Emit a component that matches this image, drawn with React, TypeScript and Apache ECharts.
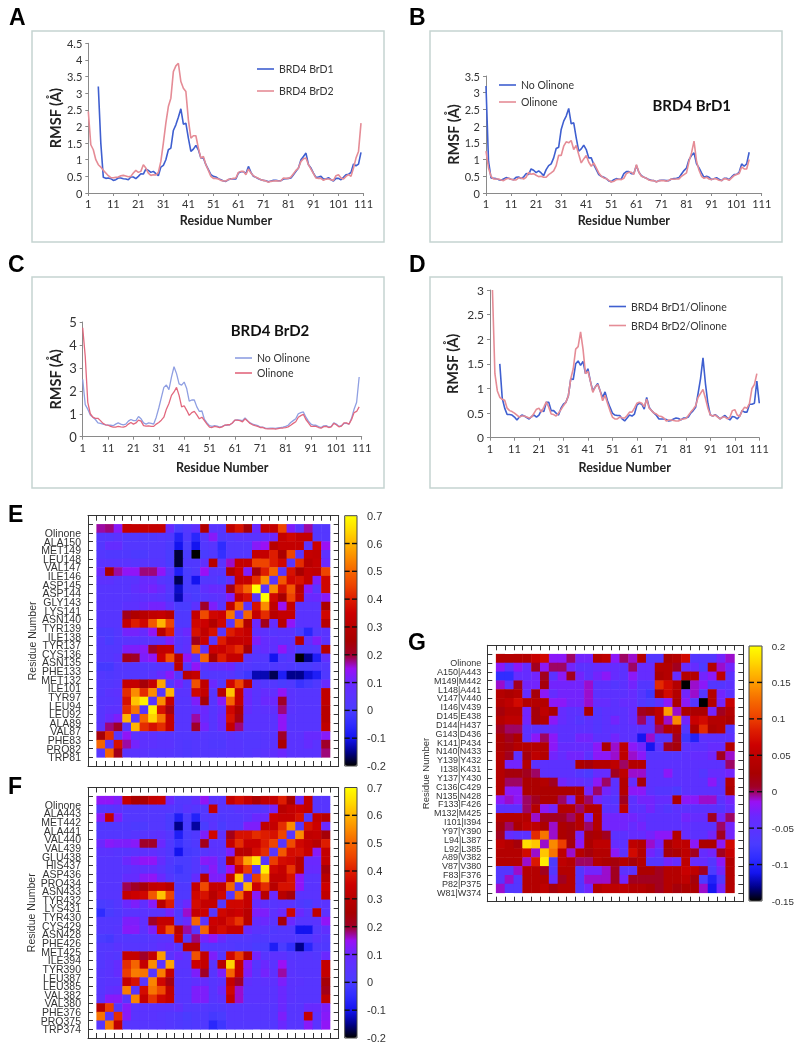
import React, { useEffect, useRef } from "react";
import * as echarts from "echarts";

const residues = Array.from({ length: 111 }, (_, i) => String(i + 1));
const n = null;

const aBrD1 = [n,n,n,n,3.2,1.5,.47,.44,.45,.43,.38,.4,.45,.45,.43,.42,.4,.48,.48,.43,.5,.58,.57,.72,.68,.62,.65,.58,.52,.78,.83,1.0,1.3,1.35,1.88,2.05,2.28,2.53,2.07,2.1,1.65,1.25,1.32,1.43,1.3,1.05,1.05,.85,.7,.55,.5,.48,.43,.4,.36,.35,.4,.43,.42,.42,.6,.64,.64,.58,.8,.62,.5,.47,.43,.4,.38,.37,.34,.36,.38,.38,.37,.37,.42,.43,.44,.45,.55,.65,.75,1.0,1.1,1.2,.85,.75,.6,.47,.48,.5,.42,.42,.46,.4,.36,.44,.44,.4,.47,.55,.56,.62,.87,.82,.87,1.22];
const aBrD2 = [2.45,1.45,1.3,1.0,.85,.78,.68,.6,.52,.46,.46,.47,.48,.52,.53,.51,.49,.5,.6,.68,.62,.65,.85,.75,.6,.53,.55,.54,.62,.95,1.5,2.1,2.6,2.85,3.65,3.82,3.9,3.35,3.15,3.05,2.2,1.65,1.72,1.72,1.35,1.05,1.1,.85,.68,.5,.44,.44,.42,.38,.36,.36,.41,.42,.44,.45,.62,.65,.65,.55,.72,.6,.52,.47,.44,.4,.38,.36,.32,.35,.36,.37,.36,.37,.45,.44,.44,.48,.58,.68,.75,.95,1.03,1.05,.85,.72,.58,.45,.44,.44,.38,.42,.42,.4,.38,.52,.55,.45,.42,.5,.55,.5,.75,1.05,1.25,2.1];
const bNoOlinone = [3.2,.95,.45,.44,.43,.4,.38,.42,.46,.44,.41,.4,.47,.48,.43,.48,.58,.55,.72,.68,.61,.66,.6,.52,.7,.82,.87,1.05,1.33,1.37,1.9,2.15,2.3,2.53,2.07,2.1,1.65,1.25,1.32,1.43,1.3,1.05,1.05,.85,.7,.55,.5,.47,.43,.36,.34,.4,.43,.41,.42,.58,.64,.64,.58,.58,.82,.62,.52,.47,.44,.4,.38,.37,.34,.37,.38,.38,.37,.37,.42,.43,.44,.46,.57,.67,.75,1.0,1.12,1.2,.87,.75,.6,.47,.5,.47,.4,.43,.46,.41,.37,.44,.44,.4,.48,.55,.56,.62,.87,.8,.87,1.22];
const bOlinone = [1.25,.75,.5,.42,.42,.42,.39,.37,.42,.44,.41,.39,.39,.45,.45,.42,.47,.62,.56,.58,.53,.49,.5,.47,.47,.55,.6,.66,.82,1.13,1.12,1.4,1.53,1.5,1.57,1.3,1.42,1.15,.9,1.02,1.12,.92,.8,.9,.75,.6,.5,.45,.43,.38,.33,.35,.4,.41,.4,.44,.58,.62,.62,.56,.85,.62,.5,.47,.44,.39,.37,.37,.33,.37,.37,.37,.35,.38,.42,.41,.42,.42,.5,.55,.6,.95,1.2,1.55,.95,.68,.5,.44,.47,.42,.4,.43,.42,.38,.37,.43,.42,.38,.45,.52,.55,.58,.78,.72,.72,1.0];
const cNoOlinone = [2.5,1.4,1.2,.95,.85,.75,.6,.58,.55,.52,.5,.5,.48,.55,.6,.55,.52,.55,.68,.75,.7,.7,.88,.78,.6,.55,.6,.58,.55,.85,1.25,1.7,2.15,2.25,2.05,2.6,3.05,2.75,2.3,2.25,2.38,2.1,1.55,1.6,1.6,1.3,1.1,1.12,.75,.6,.48,.45,.48,.46,.42,.45,.5,.5,.52,.6,.72,.73,.72,.7,.82,.7,.6,.55,.52,.48,.42,.42,.37,.36,.37,.37,.36,.38,.4,.42,.45,.5,.62,.7,.78,1.0,1.05,1.08,.85,.68,.55,.5,.5,.44,.4,.47,.48,.42,.45,.6,.55,.45,.48,.58,.58,.55,.8,1.2,1.5,2.6];
const cOlinone = [4.75,3.5,1.5,1.0,.85,.8,.8,.7,.58,.52,.5,.45,.42,.42,.45,.43,.42,.45,.55,.62,.55,.6,.72,.68,.48,.46,.47,.45,.45,.55,.62,.72,.85,1.2,1.45,1.8,1.95,2.15,1.8,1.3,1.35,1.15,.93,1.05,1.1,.95,.78,.85,.7,.55,.42,.4,.45,.43,.4,.43,.5,.52,.52,.6,.72,.72,.7,.65,.78,.68,.58,.52,.48,.45,.4,.4,.35,.34,.34,.35,.33,.35,.37,.38,.4,.43,.5,.58,.65,.85,.92,.98,.75,.6,.45,.45,.45,.4,.37,.44,.45,.4,.43,.58,.52,.43,.46,.6,.6,.55,.75,1.05,1.1,1.3];
const dBrD1 = [n,n,n,n,1.5,.8,.6,.47,.47,.46,.42,.36,.42,.46,.44,.41,.38,.43,.46,.42,.46,.56,.53,.72,.72,.55,.55,.5,.46,.6,.68,.72,.85,1.2,1.18,1.5,1.56,1.47,1.55,1.3,1.4,1.15,.95,1.03,1.1,.95,.82,.93,.75,.62,.5,.46,.45,.45,.38,.34,.4,.46,.44,.48,.66,.7,.68,.58,.82,.62,.55,.5,.45,.38,.38,.38,.37,.34,.35,.38,.4,.39,.36,.4,.4,.42,.5,.55,.62,.9,1.2,1.62,1.1,.7,.46,.44,.47,.43,.38,.42,.45,.4,.36,.43,.42,.38,.44,.55,.52,.52,.68,.68,.7,1.15,.7];
const dBrD2 = [n,3.0,1.3,.95,.82,.78,.76,.6,.55,.53,.5,.46,.42,.44,.44,.42,.4,.42,.5,.58,.6,.52,.62,.73,.62,.48,.47,.44,.5,.57,.65,.72,.85,1.2,1.4,1.8,1.85,2.15,1.8,1.3,1.35,1.15,.92,1.03,1.08,.95,.75,.86,.7,.55,.42,.38,.38,.42,.4,.4,.45,.52,.52,.6,.7,.72,.7,.63,.78,.6,.55,.5,.48,.44,.43,.4,.34,.36,.36,.35,.34,.34,.37,.38,.39,.45,.52,.58,.65,.82,.9,.98,.8,.6,.46,.44,.46,.42,.38,.42,.42,.38,.42,.55,.57,.46,.43,.55,.62,.6,.7,1.0,1.08,1.3];

const labelsE = ["Olinone","ALA150","MET149","LEU148","VAL147","ILE146","ASP145","ASP144","GLY143","LYS141","ASN140","TYR139","ILE138","TYR137","CYS136","ASN135","PHE133","MET132","ILE101","TYR97","LEU94","LEU92","ALA89","VAL87","PHE83","PRO82","TRP81"];
const labelsF = ["Olinone","ALA443","MET442","ALA441","VAL440","VAL439","GLU438","HIS437","ASP436","PRO434","ASN433","TYR432","LYS431","TYR430","CYS429","ASN428","PHE426","MET425","ILE394","TYR390","LEU387","LEU385","VAL382","VAL380","PHE376","PRO375","TRP374"];
const labelsG = ["Olinone","A150|A443","M149|M442","L148|A441","V147|V440","I146|V439","D145|E438","D144|H437","G143|D436","K141|P434","N140|N433","Y139|Y432","I138|K431","Y137|Y430","C136|C429","N135|N428","F133|F426","M132|M425","I101|I394","Y97|Y390","L94|L387","L92|L385","A89|V382","V87|V380","F83|F376","P82|P375","W81|W374"];

const heatE = [
[.17,.18,.13,.33,.33,.33,.33,.33,.09,.0,.03,.07,.28,.05,.05,.32,.38,.24,.1,.33,.33,.45,.12,.05,.17,.03,.03],
[.03,.03,.05,.02,.02,.02,.02,.03,.02,-.07,.02,-.06,.04,.13,.02,.03,.05,.05,.05,.07,.1,.33,.36,.33,.33,.03,.03],
[.03,.08,.08,.03,.03,.03,.03,.03,.01,-.1,.0,-.1,.03,.04,-.05,.03,.03,.03,.13,.15,.3,.33,.33,.33,.05,.35,.15],
[.03,.02,.02,.02,.01,.01,.03,.03,.0,-.18,.0,-.2,.0,.02,-.04,.03,.03,.03,.33,.33,.4,.26,.45,.04,.33,.32,.06],
[.05,.05,.05,.05,.04,.04,.04,.04,.0,-.18,.02,.02,.07,.3,.05,.16,.33,.33,.45,.45,.4,.36,.04,.42,.3,.33,.1],
[.1,.26,.17,.14,.14,.18,.18,.14,.05,-.08,.0,.02,.15,.04,.04,.28,.35,.12,.24,.4,.5,.04,.38,.25,.33,.32,.45],
[.06,.06,.04,.04,.05,.09,.09,.04,.02,-.17,.0,-.1,.03,.03,.0,.07,.33,.33,.42,.55,.04,.48,.36,.38,.33,.12,.36],
[.04,.04,.04,.04,.07,.1,.11,.09,.03,-.12,.0,.0,.07,.09,.08,.22,.42,.5,.7,.04,.55,.38,.48,.3,.13,.05,.36],
[.04,.04,.04,.04,.05,.06,.06,.05,.02,-.13,.02,.0,.04,.05,.06,.12,.33,.38,.04,.7,.36,.25,.45,.32,.09,.1,.13],
[.04,.04,.04,.06,.06,.09,.11,.11,.06,.0,.0,.06,.2,.12,.05,.32,.5,.05,.38,.55,.32,.15,.33,.05,.05,.05,.26],
[.04,.04,.04,.22,.27,.3,.32,.33,.3,.02,.02,.33,.46,.36,.35,.52,.04,.5,.33,.42,.3,.33,.33,.05,.05,.05,.36],
[.04,.04,.04,.33,.4,.36,.48,.6,.45,.02,.02,.36,.35,.28,.36,.04,.5,.28,.1,.22,.08,.3,.14,.05,.05,.05,.3],
[.01,.01,.03,.11,.11,.09,.14,.3,.4,.06,.1,.38,.32,.38,.04,.4,.36,.33,.07,.06,.04,.05,.05,.0,-.06,.03,.05],
[.03,.0,.03,.05,.05,.05,.05,.06,.12,.04,.06,.22,.34,.04,.4,.32,.33,.33,.12,.08,.07,.05,.05,.3,.06,.12,.05],
[.03,.03,.03,.12,.12,.13,.2,.32,.33,.04,.07,.48,.06,.35,.34,.38,.42,.24,.06,.08,.06,.14,.07,.0,.01,.03,.3],
[.03,.03,.05,.22,.2,.12,.14,.35,.47,.3,.14,.04,.5,.25,.4,.33,.33,.05,.03,.03,-.1,.02,.04,-.2,-.15,-.08,.07],
[-.01,-.01,.03,.03,.03,.03,.03,.04,.04,.3,.03,.14,.05,.08,.08,.1,.03,.03,.02,.02,.02,.03,.02,.0,.0,.02,.03],
[.03,.02,.03,.03,.03,.03,.05,.09,.13,.03,.3,.33,.02,.03,.03,.04,.01,-.02,-.13,-.13,-.17,-.08,-.15,-.15,-.11,-.08,.02],
[.03,.03,.04,.33,.33,.24,.33,.58,.03,.11,.04,.47,.32,.1,.03,.36,.45,.3,.05,.03,.03,.0,.02,-.03,-.01,.02,.09],
[.03,.05,.06,.42,.55,.42,.55,.04,.6,.05,.05,.36,.33,.04,.3,.62,.33,.1,.05,.08,.07,.14,.05,.04,.04,.04,.32],
[.04,.04,.05,.38,.62,.68,.04,.55,.33,.04,.04,.12,.24,.04,.13,.5,.33,.1,.05,.1,.1,.2,.05,.04,.04,.04,.32],
[.04,.06,.06,.42,.52,.04,.68,.38,.23,.04,.04,.08,.1,.04,.08,.36,.26,.08,.05,.06,.07,.18,.05,.04,.04,.04,.3],
[.04,.09,.12,.6,.04,.5,.64,.52,.33,.04,.04,.17,.09,.04,.1,.38,.23,.05,.05,.05,.05,.14,.04,.04,.04,.04,.3],
[.05,.18,.2,.04,.6,.42,.38,.42,.33,.04,.04,.2,.11,.04,.09,.33,.18,.05,.05,.05,.05,.14,.04,.04,.04,.04,.32],
[.24,.42,.04,.14,.06,.06,.06,.04,.04,.03,.03,.03,.04,.03,.03,.05,.03,.03,.03,.04,.04,.2,.05,.05,.09,.09,.13],
[.5,.04,.38,.17,.11,.06,.06,.05,.05,.03,.02,.03,.03,.02,.02,.04,.04,.03,.03,.04,.05,.26,.05,.05,.08,.05,.2],
[.04,.5,.22,.05,.05,.05,.04,.04,.04,.03,.02,.03,.03,.03,.03,.04,.04,.03,.04,.05,.07,.1,.05,.05,.05,.05,.18],
];
const heatF = [
[.14,.14,.12,.33,.26,.26,.33,.34,.1,.03,.03,.07,.14,.05,.05,.33,.37,.33,.27,.32,.33,.4,.25,.1,.33,.04,.04],
[.03,.03,.05,.03,.03,.03,.03,.03,.03,.02,.05,.03,.03,.33,.03,.03,.05,.05,.04,.04,.11,.3,.33,.35,.33,.04,.04],
[.13,.33,.12,.03,.03,.03,.03,.03,.0,-.08,.01,-.07,.03,.04,.02,.03,.03,.05,.1,.1,.35,.33,.33,.38,.03,.33,.3],
[.02,.02,.02,.02,.01,.01,.03,.03,.0,-.15,.0,-.14,.0,.05,.0,.03,.03,.12,.12,.32,.33,.42,.55,.03,.38,.35,.1],
[.03,.03,.03,.03,.04,.04,.05,.06,.03,-.08,.0,.02,.12,.36,.06,.22,.38,.38,.42,.4,.38,.45,.04,.55,.32,.33,.24],
[.1,.13,.12,.12,.13,.2,.2,.1,.02,-.03,.0,.02,.22,.05,.05,.33,.42,.34,.34,.4,.45,.04,.46,.36,.33,.3,.4],
[.05,.05,.04,.04,.05,.06,.07,.05,.02,-.1,-.01,.0,.04,.06,.05,.12,.3,.3,.37,.42,.04,.48,.37,.38,.34,.13,.33],
[.04,.04,.04,.1,.12,.14,.14,.08,.02,.0,.0,.03,.13,.12,.05,.28,.43,.58,.66,.04,.44,.37,.36,.3,.1,.1,.33],
[.04,.04,.04,.05,.07,.07,.08,.05,.01,-.02,.0,.03,.06,.13,.04,.15,.35,.44,.04,.68,.36,.33,.43,.3,.09,.09,.24],
[.04,.04,.04,.08,.08,.13,.14,.1,.03,.0,.0,.08,.3,.12,.12,.33,.62,.04,.44,.58,.32,.32,.38,.14,.05,.05,.3],
[.04,.04,.04,.19,.2,.24,.32,.33,.3,.02,.02,.33,.46,.33,.33,.5,.04,.6,.35,.42,.3,.38,.38,.14,.05,.05,.35],
[.04,.04,.04,.33,.35,.36,.48,.62,.45,.02,.02,.36,.38,.3,.36,.04,.5,.33,.13,.3,.1,.3,.24,.05,.05,.05,.32],
[.0,.01,.03,.1,.12,.07,.13,.3,.4,.04,.1,.37,.33,.33,.03,.36,.36,.33,.08,.06,.04,.05,.05,.02,.0,.04,.05],
[-.05,.0,.02,.05,.05,.05,.05,.05,.11,.02,.16,.33,.35,.04,.36,.33,.35,.3,.12,.12,.06,.1,.36,.1,.05,.32,.06],
[.03,.03,.03,.12,.12,.07,.2,.33,.33,.03,.09,.5,.05,.35,.33,.38,.43,.3,.08,.1,.05,.24,.1,.04,.04,.05,.14],
[.03,.03,.04,.13,.13,.06,.12,.36,.47,.3,.17,.04,.5,.33,.37,.33,.33,.09,.05,.05,.02,.03,.03,-.1,-.1,.03,.07],
[.0,-.01,.03,.03,.03,.03,.04,.05,.05,.33,.03,.18,.11,.14,.09,.03,.03,.03,.02,.02,.03,.03,.03,.02,.02,.05,.03],
[.03,.03,.05,.04,.04,.04,.05,.07,.08,.03,.3,.3,.03,.03,.03,.03,.02,.02,.0,.0,-.08,.0,-.04,-.15,-.06,.02,.02],
[.03,.04,.03,.33,.33,.2,.33,.57,.05,.1,.05,.47,.33,.12,.04,.36,.44,.3,.11,.04,.06,.06,.03,.03,.04,.03,.1],
[.03,.05,.08,.42,.5,.33,.55,.05,.58,.05,.05,.35,.33,.04,.3,.64,.33,.13,.04,.1,.05,.15,.05,.04,.04,.04,.33],
[.04,.05,.08,.44,.53,.52,.04,.53,.33,.04,.04,.12,.2,.04,.12,.5,.33,.12,.05,.11,.06,.17,.05,.04,.04,.04,.33],
[.04,.05,.05,.33,.38,.04,.54,.36,.23,.04,.04,.07,.08,.04,.06,.33,.2,.07,.05,.06,.06,.12,.05,.05,.04,.04,.24],
[.04,.07,.08,.53,.04,.37,.52,.46,.32,.04,.04,.12,.12,.04,.1,.36,.16,.05,.05,.05,.05,.1,.05,.04,.04,.04,.22],
[.05,.13,.13,.04,.54,.33,.43,.36,.33,.04,.04,.12,.12,.04,.06,.33,.16,.05,.05,.05,.05,.1,.05,.04,.04,.04,.32],
[.3,.44,.04,.13,.05,.05,.05,.05,.05,.07,.03,.03,.03,.02,.02,.04,.04,.04,.04,.04,.04,.1,.04,.04,.09,.09,.12],
[.52,.04,.42,.13,.05,.05,.05,.04,.03,.02,.0,.02,.02,-.01,.0,.04,.04,.04,.04,.04,.04,.12,.04,.04,.33,.06,.13],
[.04,.53,.32,.04,.04,.04,.04,.04,.03,.02,.01,.02,.02,-.06,-.02,.03,.03,.03,.03,.03,.03,.1,.04,.04,.13,.05,.14],
];
const heatG = [
[.04,.04,.04,.04,.06,.07,-.02,-.02,.0,-.03,-.03,.04,.05,-.02,.0,-.01,.04,-.06,-.06,.03,.04,.07,-.06,-.06,-.06,-.03,-.01],
[-.02,-.05,-.02,-.04,.01,-.02,.0,.0,-.03,-.05,-.05,-.04,-.04,-.04,-.05,.0,-.04,-.04,.04,.04,.01,-.04,-.04,-.07,.04,-.01,-.03],
[-.09,-.09,-.04,-.04,-.03,.01,-.05,-.02,.01,-.03,-.05,-.03,-.02,-.04,-.05,-.02,-.04,-.04,.03,.04,-.04,.04,.04,-.03,-.02,.05,-.05],
[-.01,-.05,.01,-.03,-.03,.02,-.03,-.03,-.03,-.03,-.01,-.05,-.05,-.06,-.05,-.03,-.06,-.06,.09,.07,.04,-.15,-.01,-.02,-.06,-.06,-.05],
[.04,.03,.04,-.04,.02,-.02,-.04,-.03,-.03,-.03,-.01,-.05,-.05,-.05,-.05,-.04,-.06,-.08,.03,.07,.04,-.03,-.01,-.06,.04,-.03,-.05],
[.04,.05,.07,.04,.04,.04,-.02,-.02,-.03,-.03,-.01,-.04,-.04,-.05,-.04,-.04,-.06,-.07,-.05,-.02,.03,-.02,-.06,-.15,.04,-.03,.06],
[.02,.04,.04,-.03,.02,.05,.03,-.04,-.05,-.05,.03,-.06,-.05,-.05,-.05,-.04,.01,.02,.05,.15,-.01,.03,.03,.03,-.03,.01,.04],
[.04,.05,.05,-.03,.02,.04,-.02,-.04,-.05,-.06,-.05,-.06,-.05,-.03,-.05,-.04,.0,-.05,.05,-.01,.14,-.03,.06,.07,.04,.04,.03],
[.01,.0,.0,-.05,-.05,-.05,-.04,-.05,-.05,-.05,-.05,-.06,-.05,-.05,-.05,-.05,-.05,-.05,.0,.04,.04,-.06,.03,.09,.03,.04,-.06],
[.03,.01,.03,-.05,-.02,.0,-.02,-.05,-.05,-.03,-.03,-.05,-.05,-.03,-.05,-.05,-.11,-.01,-.06,-.06,.01,-.08,-.1,-.05,-.05,-.05,-.05],
[.03,.02,.04,.04,.04,.04,-.02,-.04,-.04,-.04,-.04,-.02,.03,-.01,.05,-.02,-.03,-.11,-.05,.01,.02,-.05,-.05,-.05,-.04,-.04,.04],
[.04,.01,-.05,.02,.05,.04,-.03,-.04,-.03,-.03,-.05,-.02,-.02,-.01,.05,-.01,-.02,-.06,-.06,-.06,-.06,-.05,-.04,-.04,-.03,.01,-.01],
[.04,-.03,-.03,.04,-.05,-.05,-.05,-.05,-.05,.03,.02,.04,.04,.05,.0,.04,.04,-.05,-.05,-.05,-.05,-.05,-.05,-.05,-.05,-.05,.0],
[.04,.02,.02,.01,.0,-.05,-.05,-.05,-.05,-.06,-.07,-.04,-.04,.01,.05,-.01,-.01,-.05,-.05,-.02,-.05,-.05,-.05,-.06,-.04,-.04,-.03],
[.04,.0,.0,.03,.03,.04,.01,-.03,-.04,-.04,-.05,-.02,.0,-.05,.04,-.04,.02,-.05,-.05,-.05,-.05,-.05,-.05,-.05,-.02,-.05,.04],
[.04,-.02,-.02,.03,.03,.03,.03,.03,.03,.03,-.03,.0,-.03,-.05,.04,-.02,-.02,-.05,-.06,-.06,-.07,-.05,-.05,-.05,-.05,-.05,.03],
[-.02,-.01,-.02,.0,.01,.03,.03,.0,-.03,.04,.0,-.03,-.05,-.06,.01,-.05,-.03,-.03,-.04,-.04,.03,-.02,-.02,-.01,-.01,-.05,-.03],
[-.05,-.05,-.05,.0,.04,-.02,-.03,.04,.04,.0,.04,.04,-.05,-.05,.05,-.05,-.05,-.03,-.05,-.06,-.05,-.05,-.05,-.05,-.05,-.06,-.04],
[.04,.04,.04,.04,-.01,.01,.01,.01,.0,.04,-.03,.04,-.03,-.03,-.03,-.03,-.04,-.05,-.05,-.05,-.05,-.03,-.04,-.04,.01,-.03,.0],
[.02,.0,.03,.05,.05,.03,-.01,.03,.02,.04,.0,.04,-.03,-.03,-.03,-.04,-.03,-.05,-.05,-.05,-.05,-.04,-.05,-.05,-.05,.0,-.03],
[.01,-.04,-.05,-.05,.09,.13,-.01,.03,.02,-.03,.02,.03,.01,-.05,-.05,-.04,-.04,-.03,-.02,-.02,.04,-.04,-.05,-.05,-.03,.01,-.03],
[.05,.04,.02,.18,.17,-.01,.14,.1,.02,-.02,.03,.05,.05,-.04,-.05,.05,.04,-.01,-.03,.03,.05,.05,-.02,.03,.03,-.02,.07],
[.04,.04,.04,.07,-.01,.17,.13,.05,-.01,.04,.02,.04,.04,-.02,-.05,.07,.04,-.03,-.05,.02,.03,.05,.01,-.04,-.03,.01,.06],
[.04,.04,.04,-.01,.08,.19,-.07,.05,.04,.0,.0,.04,.03,.02,.04,.02,.04,-.06,-.06,-.03,-.04,.05,-.04,-.04,-.06,-.02,.04],
[-.06,-.06,-.01,.04,.04,.01,-.06,.04,.04,-.06,-.03,-.03,-.01,.01,-.05,-.05,.03,.03,.01,.04,.04,.06,.05,.01,-.07,-.03,.04],
[-.06,-.01,-.06,.04,.04,.04,-.04,.01,.04,-.06,-.01,-.01,-.01,.01,-.03,.01,.01,.01,.01,.04,.04,.05,.02,-.07,-.1,-.06,.04],
[-.01,-.06,-.06,.04,.04,.05,.02,.04,.04,-.06,-.03,.04,.05,.05,.05,.04,.04,.03,.01,.04,.02,.03,.03,-.01,-.11,-.03,.04],
];

const heatColors = ["#000000","#00008c","#1414f0","#2f2cff","#4a3cff","#5a33ff","#6a28ff","#9a10f5","#a00028","#a80000","#b80000","#cc0000","#dd1c00","#ee4400","#f56400","#fb8c00","#ffb400","#ffdc00","#ffff00"];

const sansLine = "Lato";
const sansHeat = "Liberation Sans";
const BLUE = "#3f5fd0";
const RED = "#e58c96";
const BLUE_C = "#8f9fe2";
const RED_C = "#e2687e";

export default function App() {
  const ref = useRef<HTMLDivElement>(null);
  useEffect(() => {
    const chart = echarts.init(ref.current!, undefined, { renderer: "svg" });
    const grid: any[] = [], xAxis: any[] = [], yAxis: any[] = [], series: any[] = [], legend: any[] = [], visualMap: any[] = [], barMarks: any[] = [];

    const linePanel = (o: any) => {
      const gi = grid.length;
      grid.push({ left: o.x0, top: o.yTop, width: o.x1 - o.x0, height: o.y0 - o.yTop });
      xAxis.push({
        type: "category", gridIndex: gi, data: residues, boundaryGap: false,
        name: "Residue Number", nameLocation: "middle", nameGap: o.xGap,
        nameTextStyle: { fontFamily: sansLine, fontWeight: "bold", fontSize: 12.5, color: "#222" },
        axisLine: { lineStyle: { color: "#8a8a8a" } },
        axisTick: { interval: 9, length: 3, lineStyle: { color: "#8a8a8a" } },
        axisLabel: { interval: 9, fontFamily: sansLine, fontSize: 11, color: "#333", margin: 5, showMinLabel: true, showMaxLabel: true },
      });
      yAxis.push({
        type: "value", gridIndex: gi, min: 0, max: o.max, interval: o.step,
        name: "RMSF (Å)", nameLocation: "middle", nameGap: o.yGap,
        nameTextStyle: { fontFamily: sansLine, fontWeight: "bold", fontSize: 14.5, color: "#222" },
        splitLine: { show: false },
        axisLine: { show: true, lineStyle: { color: "#8a8a8a" } },
        axisTick: { show: true, length: 3, lineStyle: { color: "#8a8a8a" } },
        axisLabel: { fontFamily: sansLine, fontSize: o.yFont || 11, color: "#333", margin: 6 },
      });
      o.lines.forEach((l: any) => {
        series.push({
          type: "line", name: l.name, xAxisIndex: gi, yAxisIndex: gi, data: l.data,
          symbol: "none", connectNulls: false,
          lineStyle: { color: l.color, width: l.width || 1.6 }, itemStyle: { color: l.color },
        });
      });
      legend.push({
        left: o.legX, top: o.legY, orient: "vertical", padding: 0, itemGap: o.legGap, itemWidth: 17, itemHeight: 1.6, icon: "rect",
        selectedMode: false, textStyle: { fontFamily: sansLine, fontSize: 10.5, color: "#333" },
        data: o.lines.map((l: any) => ({ name: l.name, itemStyle: { color: l.color } })),
      });
    };

    linePanel({ x0: 88.3, x1: 363.5, yTop: 43.3, y0: 193, max: 4.5, step: .5, xGap: 21, yGap: 23, legX: 257, legY: 63.5, legGap: 11,
      lines: [{ name: "BRD4 BrD1", data: aBrD1, color: BLUE }, { name: "BRD4 BrD2", data: aBrD2, color: RED }] });
    linePanel({ x0: 486, x1: 761.7, yTop: 76, y0: 193, max: 3.5, step: .5, xGap: 21, yGap: 24, legX: 499, legY: 79.5, legGap: 6,
      lines: [{ name: "No Olinone", data: bNoOlinone, color: BLUE }, { name: "Olinone", data: bOlinone, color: RED }] });
    linePanel({ x0: 82.7, x1: 361.7, yTop: 322, y0: 436.7, max: 5, step: 1, xGap: 24, yGap: 20, yFont: 13, legX: 235, legY: 352.5, legGap: 4,
      lines: [{ name: "No Olinone", data: cNoOlinone, color: BLUE_C, width: 1.3 }, { name: "Olinone", data: cOlinone, color: RED_C, width: 1.3 }] });
    linePanel({ x0: 490, x1: 759.3, yTop: 290, y0: 437.7, max: 3, step: .5, xGap: 23, yGap: 30, yFont: 12, legX: 609, legY: 301, legGap: 8,
      lines: [{ name: "BRD4 BrD1/Olinone", data: dBrD1, color: BLUE }, { name: "BRD4 BrD2/Olinone", data: dBrD2, color: RED }] });

    const heatPanel = (o: any) => {
      const gi = grid.length;
      const width = o.x1 - o.x0, height = o.y1 - o.y0;
      const blanks = Array.from({ length: 29 }, () => "");
      const yCats = ["", ...[...o.labels].reverse(), ""];
      grid.push({ left: o.x0, top: o.y0, width, height });
      const tick = { show: true, inside: true, length: 5, interval: 0, lineStyle: { color: "#333", width: 1 } };
      const line = { show: true, onZero: false, lineStyle: { color: "#333", width: 1 } };
      const xi = xAxis.length, yi = yAxis.length;
      xAxis.push({ type: "category", gridIndex: gi, data: blanks, position: "bottom", axisLine: line, axisTick: tick, axisLabel: { show: false }, splitLine: { show: false }, z: 5 });
      xAxis.push({ type: "category", gridIndex: gi, data: blanks, position: "top", axisLine: line, axisTick: tick, axisLabel: { show: false }, splitLine: { show: false }, z: 5 });
      yAxis.push({
        type: "category", gridIndex: gi, data: yCats, position: "left", axisLine: line, axisTick: tick, splitLine: { show: false }, z: 5,
        name: "Residue Number", nameLocation: "middle", nameGap: o.nameGap,
        nameTextStyle: { fontFamily: sansHeat, fontSize: o.nameFont, color: "#333" },
        axisLabel: { interval: 0, fontFamily: sansHeat, fontSize: o.font, color: "#333", margin: o.margin, verticalAlign: "top", lineHeight: height / 29 },
      });
      yAxis.push({ type: "category", gridIndex: gi, data: yCats, position: "right", axisLine: line, axisTick: tick, axisLabel: { show: false }, splitLine: { show: false }, z: 5 });
      const data: any[] = [];
      o.values.forEach((row: number[], r: number) => row.forEach((v, c) => data.push([c + 1, 27 - r, v])));
      const si = series.length;
      series.push({ type: "heatmap", xAxisIndex: xi, yAxisIndex: yi, data, itemStyle: { borderWidth: 0 }, emphasis: { disabled: true } });

      const bgi = grid.length;
      grid.push({ left: o.bx0, top: o.by0, width: o.bx1 - o.bx0, height: o.by1 - o.by0 });
      const fmt = (v: number) => String(+v.toFixed(2));
      xAxis.push({ type: "value", gridIndex: bgi, min: 0, max: 1, show: false });
      yAxis.push({ type: "value", gridIndex: bgi, min: o.vmin, max: o.vmax, interval: o.vstep, position: "right", axisLine: { show: false, onZero: false }, axisTick: { show: false }, splitLine: { show: false },
        axisLabel: { fontFamily: sansHeat, fontSize: o.barFont, color: "#333", margin: 10, formatter: fmt } });
      visualMap.push({
        type: "continuous", seriesIndex: si, min: o.vmin, max: o.vmax, calculable: false, realtime: false, hoverLink: false,
        left: o.bx0, top: o.by0, itemWidth: o.bx1 - o.bx0, itemHeight: o.by1 - o.by0, padding: 0, text: null, z: 1,
        inRange: { color: heatColors },
      });
      // colour-bar frame and inward ticks, placed through the bar's own scale
      barMarks.push({ type: "rect", z: 100, silent: true, shape: { x: o.bx0, y: o.by0, width: o.bx1 - o.bx0, height: o.by1 - o.by0 }, style: { fill: "none", stroke: "#444", lineWidth: 1 } });
      const steps = Math.round((o.vmax - o.vmin) / o.vstep);
      for (let i = 1; i < steps; i++) {
        const y = o.by1 - (i / steps) * (o.by1 - o.by0);
        [[o.bx0, o.bx0 + 5], [o.bx1 - 5, o.bx1]].forEach(([a, b]) =>
          barMarks.push({ type: "line", z: 100, silent: true, shape: { x1: a, y1: y, x2: b, y2: y }, style: { stroke: "#111", lineWidth: 1.4 } }));
      }
    };

    heatPanel({ x0: 88, x1: 338.7, y0: 515.7, y1: 766, labels: labelsE, values: heatE, font: 10.5, margin: 7, nameGap: 49, nameFont: 10.5,
      vmin: -.2, vmax: .7, vstep: .1, bx0: 344.7, bx1: 357, by0: 515.7, by1: 766, barFont: 11 });
    heatPanel({ x0: 88, x1: 338.7, y0: 787.5, y1: 1038, labels: labelsF, values: heatF, font: 10.5, margin: 7, nameGap: 49, nameFont: 10.5,
      vmin: -.2, vmax: .7, vstep: .1, bx0: 344.7, bx1: 357, by0: 787.5, by1: 1038, barFont: 11 });
    heatPanel({ x0: 487.3, x1: 743.3, y0: 645.3, y1: 901.7, labels: labelsG, values: heatG, font: 9, margin: 6, nameGap: 46, nameFont: 9.5,
      vmin: -.15, vmax: .2, vstep: .05, bx0: 749, bx1: 762, by0: 646, by1: 901, barFont: 9.8 });

    const box = (x: number, y: number, x2: number, y2: number) => ({
      type: "rect", shape: { x, y, width: x2 - x, height: y2 - y }, style: { fill: "none", stroke: "#c5d4d1", lineWidth: 1.5 }, silent: true,
    });
    const letter = (t: string, x: number, y: number) => ({
      type: "text", x, y, style: { text: t, fontFamily: sansHeat, fontWeight: "bold", fontSize: 23, fill: "#000", textAlign: "left", textVerticalAlign: "middle" }, silent: true,
    });
    const heading = (t: string, x: number, y: number) => ({
      type: "text", x, y, style: { text: t, fontFamily: sansLine, fontWeight: "bold", fontSize: 15, fill: "#111", textAlign: "center", textVerticalAlign: "middle" }, silent: true,
    });

    chart.setOption({
      animation: false,
      backgroundColor: "#fff",
      grid, xAxis, yAxis, series, legend, visualMap,
      graphic: [
        box(32, 31, 384, 242), box(430, 31, 782, 242), box(32, 277, 384, 488), box(430, 277, 782, 488),
        letter("A", 9, 17), letter("B", 409, 17), letter("C", 8, 264), letter("D", 409, 264),
        letter("E", 8, 514), letter("F", 8, 786), letter("G", 408, 642),
        heading("BRD4 BrD1", 691.7, 105), heading("BRD4 BrD2", 270, 330),
        ...barMarks,
      ],
    });
    return () => chart.dispose();
  }, []);
  return <div ref={ref} style={{ position: "absolute", left: 0, top: 0, width: 797, height: 1050, background: "#fff", filter: "blur(0.5px)" }} />;
}
